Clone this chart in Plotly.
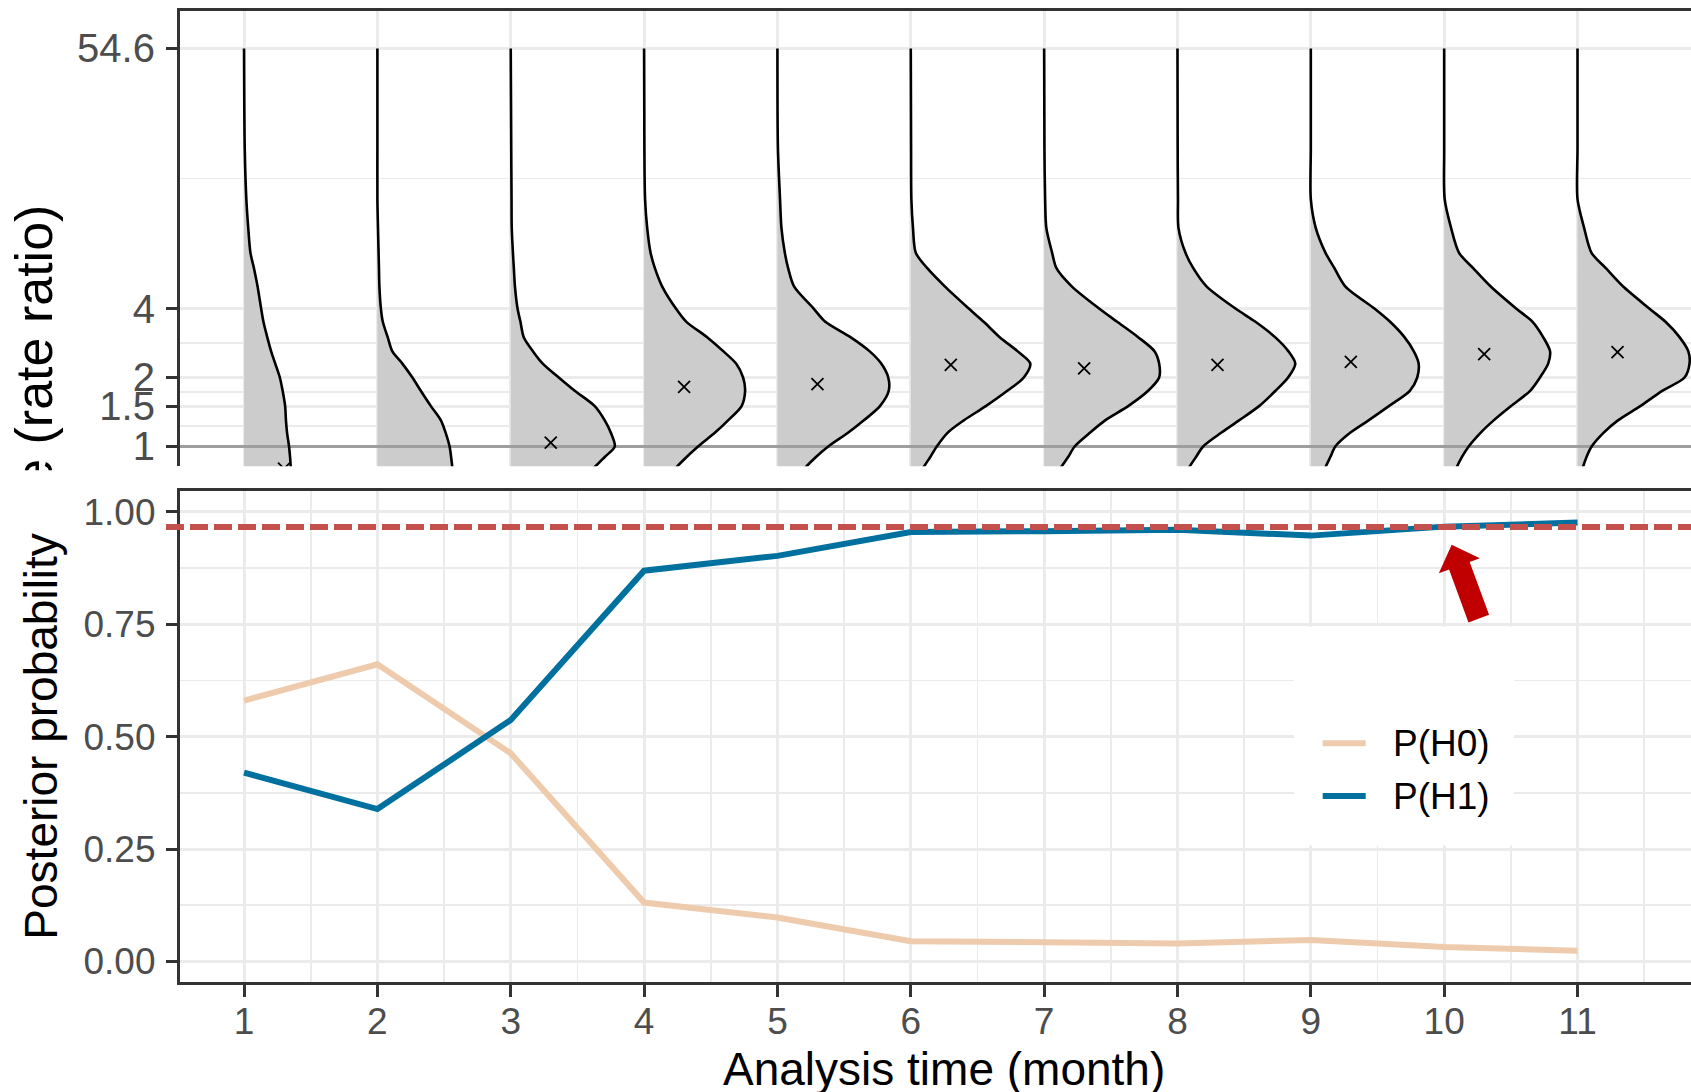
import plotly.graph_objects as go

# ---------------- data ----------------
MONTHS = [1, 2, 3, 4, 5, 6, 7, 8, 9, 10, 11]
P_H0 = [0.580, 0.661, 0.463, 0.131, 0.098, 0.045, 0.043, 0.040, 0.048, 0.032, 0.024]
P_H1 = [0.420, 0.339, 0.537, 0.869, 0.902, 0.955, 0.957, 0.960, 0.947, 0.967, 0.976]
SERIES_NAMES = ["P(H0)", "P(H1)"]
THRESHOLD = 0.966

# posterior density of the rate ratio, evaluated on a common grid of rate ratios
RR_GRID = [54.6, 20, 12, 9, 7, 6, 5, 4, 3.5, 3, 2.6, 2.3, 2.0, 1.75, 1.5, 1.3, 1.15, 1.0, 0.9, 0.8, 0.7]
DENS_M1 = [0, 0.007, 0.023, 0.042, 0.064, 0.099, 0.135, 0.171, 0.194, 0.232, 0.271, 0.312, 0.358, 0.386, 0.411, 0.419, 0.43, 0.45, 0.46, 0.468, 0.475]
DENS_M2 = [0, 0, 0, 0.006, 0.012, 0.016, 0.02, 0.035, 0.054, 0.103, 0.15, 0.25, 0.35, 0.434, 0.535, 0.635, 0.682, 0.722, 0.737, 0.75, 0.755]
DENS_M3 = [0, 0.005, 0.008, 0.01, 0.022, 0.031, 0.042, 0.068, 0.097, 0.13, 0.223, 0.32, 0.48, 0.64, 0.84, 0.94, 1.00, 1.04, 0.94, 0.82, 0.62]
DENS_M4 = [0, 0.003, 0.01, 0.031, 0.065, 0.108, 0.18, 0.318, 0.423, 0.63, 0.794, 0.92, 0.99, 1.01, 0.975, 0.84, 0.71, 0.54, 0.425, 0.31, 0.20]
DENS_M5 = [0, 0.005, 0.026, 0.04, 0.074, 0.107, 0.166, 0.362, 0.479, 0.73, 0.923, 1.038, 1.108, 1.113, 1.025, 0.864, 0.709, 0.508, 0.385, 0.27, 0.18]
DENS_M6 = [0, 0.003, 0.006, 0.022, 0.05, 0.165, 0.34, 0.58, 0.729, 0.889, 1.07, 1.195, 1.13, 0.965, 0.75, 0.53, 0.37, 0.26, 0.195, 0.12, 0.07]
DENS_M7 = [0, 0.003, 0.01, 0.022, 0.08, 0.123, 0.276, 0.55, 0.73, 0.94, 1.105, 1.15, 1.15, 1.04, 0.84, 0.61, 0.46, 0.305, 0.24, 0.16, 0.09]
DENS_M8 = [0, 0.002, 0.005, 0.01, 0.08, 0.158, 0.29, 0.58, 0.78, 0.976, 1.11, 1.178, 1.106, 0.98, 0.816, 0.616, 0.44, 0.257, 0.185, 0.11, 0.06]
DENS_M9 = [0, 0, 0, 0.049, 0.147, 0.236, 0.344, 0.636, 0.793, 0.936, 1.03, 1.078, 1.064, 0.99, 0.78, 0.577, 0.396, 0.245, 0.195, 0.14, 0.09]
DENS_M10 = [0, 0, 0.005, 0.069, 0.149, 0.29, 0.463, 0.719, 0.884, 0.99, 1.059, 1.04, 0.958, 0.86, 0.667, 0.495, 0.366, 0.245, 0.178, 0.12, 0.08]
DENS_M11 = [0, 0, 0, 0.066, 0.14, 0.283, 0.454, 0.717, 0.88, 1.02, 1.108, 1.12, 1.07, 0.847, 0.627, 0.404, 0.262, 0.141, 0.09, 0.05, 0.02]
DENSITIES = [DENS_M1, DENS_M2, DENS_M3, DENS_M4, DENS_M5, DENS_M6,
             DENS_M7, DENS_M8, DENS_M9, DENS_M10, DENS_M11]
# posterior point estimate of the rate ratio (x marks); month 2 lies below the shown range
POINT_EST = [0.80, None, 1.04, 1.82, 1.87, 2.27, 2.19, 2.27, 2.34, 2.53, 2.58]

TOP_TICKS = [1, 1.5, 2, 4, 54.6]
TOP_TICKTEXT = ["1", "1.5", "2", "4", "54.6"]
BOT_TICKS = [0, 0.25, 0.5, 0.75, 1.0]
BOT_TICKTEXT = ["0.00", "0.25", "0.50", "0.75", "1.00"]

# ---------------- style ----------------
W, H = 1691, 1092
FONT = "Liberation Sans, Arial, Helvetica, sans-serif"
GRID = "#EBEBEB"
AXC = "#333333"
TICKC = "#4D4D4D"
C_H0 = "#EECBAD"
C_H1 = "#00709F"
C_THR = "#C4504D"
C_ARROW = "#C00000"
DENS_SCALE = 0.75          # month units per density unit
X_RANGE = [0.516, 11.851]
PX = lambda v: v / W
PY = lambda v: 1 - v / H

fig = go.Figure()

# ---- top panel: half violins ----
for m, dens in zip(MONTHS, DENSITIES):
    fig.add_trace(go.Scatter(x=[m, m], y=[RR_GRID[0], RR_GRID[-1]], mode="lines",
                             line=dict(width=0), showlegend=False, hoverinfo="skip",
                             xaxis="x", yaxis="y"))
    fig.add_trace(go.Scatter(x=[m + DENS_SCALE * d for d in dens], y=RR_GRID, mode="lines",
                             line=dict(width=0, shape="spline", smoothing=0.8),
                             fill="tonextx", fillcolor="#CCCCCC",
                             showlegend=False, hoverinfo="skip", xaxis="x", yaxis="y"))

fig.add_trace(go.Scatter(x=X_RANGE, y=[1, 1], mode="lines",
                         line=dict(color="#9E9E9E", width=3),
                         showlegend=False, hoverinfo="skip", xaxis="x", yaxis="y"))

for m, dens in zip(MONTHS, DENSITIES):
    fig.add_trace(go.Scatter(x=[m + DENS_SCALE * d for d in dens], y=RR_GRID, mode="lines",
                             line=dict(color="black", width=2.6, shape="spline", smoothing=0.8),
                             showlegend=False, hoverinfo="skip", xaxis="x", yaxis="y"))

fig.add_trace(go.Scatter(x=[m + 0.3 for m in MONTHS], y=POINT_EST, mode="markers",
                         marker=dict(symbol="x-thin", size=12, line=dict(color="black", width=1.8)),
                         showlegend=False, hoverinfo="skip", xaxis="x", yaxis="y"))

# ---- bottom panel: posterior probabilities ----
fig.add_trace(go.Scatter(x=MONTHS, y=P_H0, mode="lines", name=SERIES_NAMES[0],
                         line=dict(color=C_H0, width=6), showlegend=False,
                         xaxis="x2", yaxis="y2"))
fig.add_trace(go.Scatter(x=MONTHS, y=P_H1, mode="lines", name=SERIES_NAMES[1],
                         line=dict(color=C_H1, width=6), showlegend=False,
                         xaxis="x2", yaxis="y2"))

# ---- clipped y title of the top panel (text clipped by its own subplot) ----
fig.add_trace(go.Bar(x=[0], y=[0.5848], base=[0], width=[1],
                     marker=dict(color="rgba(0,0,0,0)", line=dict(width=0)),
                     text=["e (rate ratio)"], textposition="inside", insidetextanchor="end",
                     textangle=-90, constraintext="none", cliponaxis=True,
                     textfont=dict(family=FONT, size=52, color="black"),
                     showlegend=False, hoverinfo="skip", xaxis="x3", yaxis="y3"))

top_minor = [(a * b) ** 0.5 for a, b in zip(TOP_TICKS[:-1], TOP_TICKS[1:])]
bot_minor = [(a + b) / 2 for a, b in zip(BOT_TICKS[:-1], BOT_TICKS[1:])]
x_minor = [m - 0.5 for m in MONTHS] + [MONTHS[-1] + 0.5]

# ---- legend drawn inside the lower panel ----
LEG_ROWS = [744.5, 797.5]
legend_shapes = [dict(type="rect", xref="paper", yref="paper",
                      x0=PX(1294), x1=PX(1514), y0=PY(847), y1=PY(628),
                      fillcolor="white", line=dict(width=0), layer="above")]
legend_annots = []
for name, col, yy in zip(SERIES_NAMES, [C_H0, C_H1], LEG_ROWS):
    legend_shapes.append(dict(type="line", xref="paper", yref="paper",
                              x0=PX(1322.7), x1=PX(1365.7), y0=PY(yy), y1=PY(yy),
                              line=dict(color=col, width=6), layer="above"))
    legend_annots.append(dict(text=name, xref="paper", yref="paper", x=PX(1391), y=PY(yy),
                              xanchor="left", yanchor="middle", showarrow=False,
                              font=dict(size=37, color="black")))

fig.update_layout(
    width=W, height=H, margin=dict(l=0, r=0, t=0, b=0),
    paper_bgcolor="white", plot_bgcolor="white",
    font=dict(family=FONT, color="black"),
    xaxis=dict(domain=[PX(179.5), 1], range=X_RANGE, side="top", anchor="y",
               showline=True, linecolor=AXC, linewidth=2.6, ticks="", showticklabels=False,
               tickvals=MONTHS, showgrid=True, gridcolor=GRID, gridwidth=3, zeroline=False,
               fixedrange=True),
    yaxis=dict(domain=[PY(467), PY(11)], type="log", range=[-0.0858, 1.9005], anchor="x",
               showline=True, linecolor=AXC, linewidth=2.6,
               tickvals=TOP_TICKS, ticktext=TOP_TICKTEXT, ticks="outside", ticklen=11,
               tickwidth=3, tickcolor=AXC, tickfont=dict(size=40, color=TICKC),
               ticklabelstandoff=3,
               showgrid=True, gridcolor=GRID, gridwidth=3, zeroline=False,
               minor=dict(tickvals=top_minor, showgrid=True, gridcolor=GRID, gridwidth=1.8, ticks=""),
               fixedrange=True),
    xaxis2=dict(domain=[PX(179.5), 1], range=X_RANGE, anchor="y2",
                showline=True, mirror=True, linecolor=AXC, linewidth=2.6,
                tickvals=MONTHS, ticktext=[str(m) for m in MONTHS], ticks="outside", ticklen=12,
                tickwidth=3, tickcolor=AXC, tickfont=dict(size=37, color=TICKC),
                ticklabelstandoff=-7,
                showgrid=True, gridcolor=GRID, gridwidth=3, zeroline=False,
                minor=dict(tickvals=x_minor, showgrid=True, gridcolor=GRID, gridwidth=1.8, ticks=""),
                fixedrange=True),
    yaxis2=dict(domain=[PY(984), PY(492)], range=[-0.046, 1.046], anchor="x2",
                showline=True, linecolor=AXC, linewidth=2.6,
                tickvals=BOT_TICKS, ticktext=BOT_TICKTEXT, ticks="outside", ticklen=11,
                tickwidth=3, tickcolor=AXC, tickfont=dict(size=37, color=TICKC),
                ticklabelstandoff=3,
                showgrid=True, gridcolor=GRID, gridwidth=3, zeroline=False,
                minor=dict(tickvals=bot_minor, showgrid=True, gridcolor=GRID, gridwidth=1.8, ticks=""),
                fixedrange=True),
    xaxis3=dict(domain=[0, PX(68)], range=[-0.5, 0.5], anchor="y3", visible=False, fixedrange=True),
    yaxis3=dict(domain=[PY(471), PY(11)], range=[0, 1], anchor="x3", visible=False, fixedrange=True),
    showlegend=False,
    annotations=[
        dict(text="Posterior probability", textangle=-90, xref="paper", yref="paper",
             x=PX(41), y=PY(738), xanchor="center", yanchor="middle", showarrow=False,
             font=dict(size=46, color="black")),
        dict(text="Analysis time (month)", xref="paper", yref="paper",
             x=PX(943.6), y=PY(1070.6), xanchor="center", yanchor="middle", showarrow=False,
             font=dict(size=46, color="black")),
    ] + legend_annots,
    shapes=[
        dict(type="line", xref="paper", yref="y2", x0=PX(166), x1=1, y0=THRESHOLD, y1=THRESHOLD,
             line=dict(color=C_THR, width=6, dash="18px,6px"), layer="above"),
        dict(type="path", xref="x2", yref="y2", xsizemode="pixel", ysizemode="pixel",
             xanchor=10, yanchor=THRESHOLD,
             path="M 7.5,-17.7 L 35.7,-31.2 L 25.5,-34.9 L 44.9,-87.7 L 24.3,-95.3 L 4.9,-42.5 L -5.3,-46.2 Z",
             fillcolor=C_ARROW, line=dict(width=0), layer="above"),
    ] + legend_shapes,
)

fig.write_html("out.html", config={"displayModeBar": False, "staticPlot": True},
               post_script="document.body.style.margin='0px';document.body.style.overflow='hidden';")
